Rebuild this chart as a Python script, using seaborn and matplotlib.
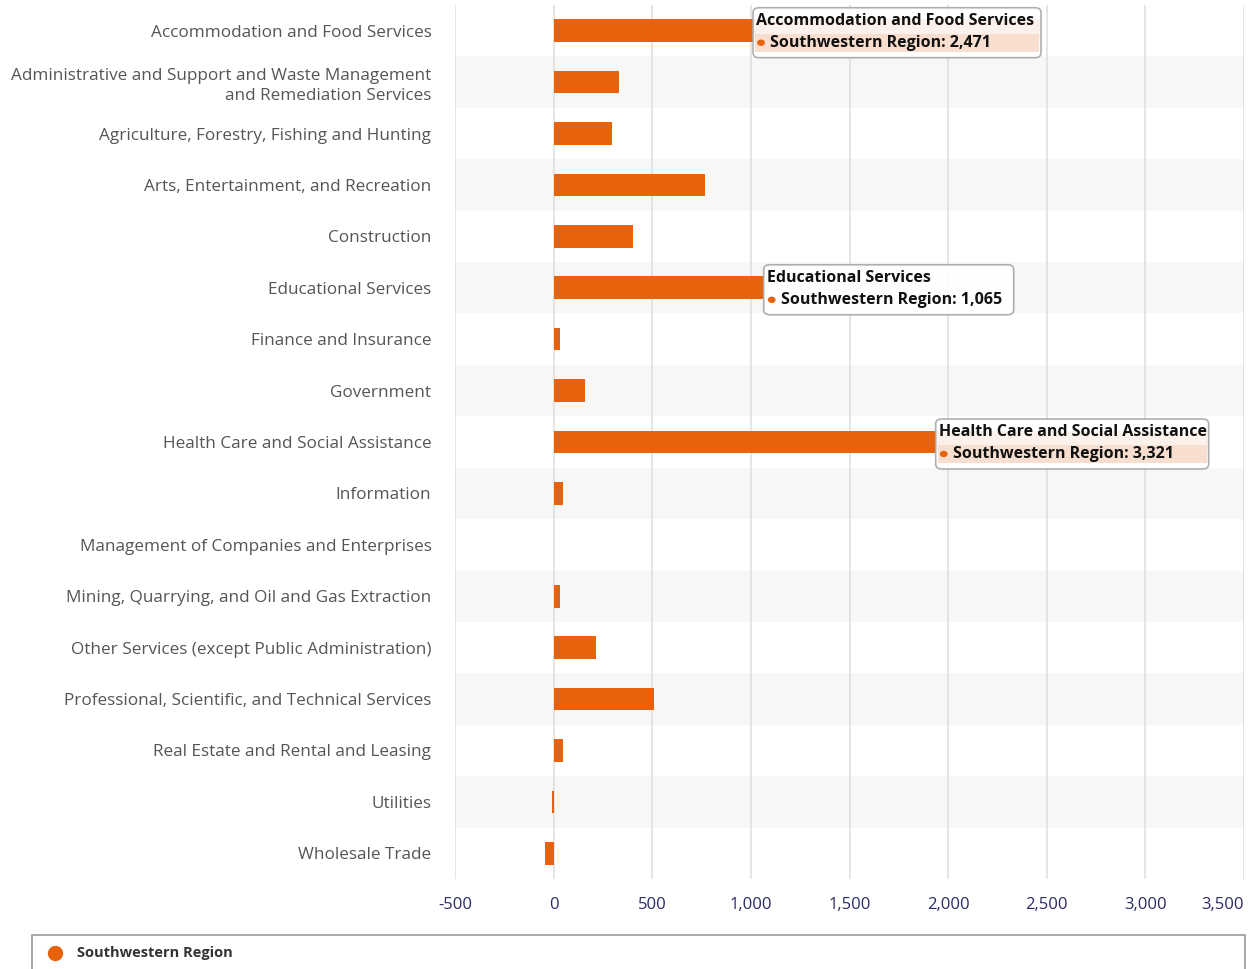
import numpy as np
import pandas as pd
import seaborn as sns
import matplotlib
matplotlib.use("Agg")
import matplotlib.pyplot as plt
from matplotlib.patches import FancyBboxPatch, Rectangle, Circle

# Net change by industry, Southwestern Region
industries = [
    "Accommodation and Food Services",
    "Administrative and Support and Waste Management\nand Remediation Services",
    "Agriculture, Forestry, Fishing and Hunting",
    "Arts, Entertainment, and Recreation",
    "Construction",
    "Educational Services",
    "Finance and Insurance",
    "Government",
    "Health Care and Social Assistance",
    "Information",
    "Management of Companies and Enterprises",
    "Mining, Quarrying, and Oil and Gas Extraction",
    "Other Services (except Public Administration)",
    "Professional, Scientific, and Technical Services",
    "Real Estate and Rental and Leasing",
    "Utilities",
    "Wholesale Trade",
]
change = [2471, 333, 294, 767, 404, 1065, 32, 158, 3321, 48, 0, 34, 216, 507, 49, -9, -44]
series_name = "Southwestern Region"
x_ticks = [-500, 0, 500, 1000, 1500, 2000, 2500, 3000, 3500]

# hover boxes: (row index, which side of the bar end the box sits, box width px, highlighted)
tooltips = [
    (0, "left", 288, True),
    (5, "right", 250, False),
    (8, "left", 273, True),
]

BAR = "#E8620C"
W, H = 1251, 969

sns.set_theme(style="white")
plt.rcParams["font.family"] = ["Open Sans", "DejaVu Sans"]

fig = plt.figure(figsize=(W / 100, H / 100), dpi=100)
fig.patch.set_facecolor("white")
ax = fig.add_axes([455 / W, 90 / H, (1244 - 455) / W, (879 - 5) / H])

df = pd.DataFrame({"industry": industries, "value": change})
sns.barplot(data=df, x="value", y="industry", orient="h", color=BAR,
            saturation=1, width=0.44, linewidth=0, ax=ax, zorder=3)

n = len(industries)
ax.set_xlim(x_ticks[0], x_ticks[-1])
ax.set_ylim(n - 0.5, -0.5)

# alternating row bands
for i in range(1, n, 2):
    ax.axhspan(i - 0.5, i + 0.5, color="#f7f7f7", zorder=0, lw=0)

ax.set_xticks(x_ticks)
ax.set_xticklabels([f"{t:,}" for t in x_ticks])
ax.xaxis.grid(True, color="#dedede", lw=1.1, zorder=1)
ax.yaxis.grid(False)
ax.set_axisbelow(True)
for s in ax.spines.values():
    s.set_visible(False)
ax.set_xlabel("")
ax.set_ylabel("")
ax.tick_params(axis="y", length=0, pad=17, labelsize=12.3, labelcolor="#555555")
ax.tick_params(axis="x", length=0, pad=13, labelsize=12, labelcolor="#2a2a66")
for lab in ax.get_yticklabels():
    lab.set_linespacing(1.3)
# keep the last tick label inside the plot edge
ax.get_xticklabels()[-1].set_horizontalalignment("right")


def to_fig(px, py):
    return px / W, py / H


# hover tooltips anchored at the bar ends
for row, side, wpx, hl in tooltips:
    val = change[row]
    ax_x, ax_y = ax.transData.transform((val, row))
    left = ax_x - wpx if side == "left" else ax_x
    top = ax_y + 23
    bottom = ax_y - 27
    box = FancyBboxPatch(to_fig(left, bottom), wpx / W, (top - bottom) / H,
                         boxstyle="round,pad=0,rounding_size=0.005",
                         transform=fig.transFigure, facecolor="white",
                         edgecolor="#a8a8a8", lw=1.2, alpha=0.92, zorder=10)
    fig.add_artist(box)
    if hl:
        band = Rectangle(to_fig(left + 2, ax_y - 21), (wpx - 4) / W, 18 / H,
                         transform=fig.transFigure, facecolor="#f7dece",
                         edgecolor="none", zorder=11)
        fig.add_artist(band)
    label = industries[row].replace("\n", " ")
    fig.text(*to_fig(left + 3, ax_y + 10), label, fontsize=11.5,
             fontweight="bold", color="#111111", va="center", ha="left", zorder=12)
    fig.add_artist(Circle(to_fig(left + 8, ax_y - 12), 3.2 / W,
                          transform=fig.transFigure, color=BAR, zorder=12))
    fig.text(*to_fig(left + 17, ax_y - 12), f"{series_name}: {val:,}",
             fontsize=11.5, fontweight="bold", color="#111111",
             va="center", ha="left", zorder=12)

# legend panel
legend_box = Rectangle(to_fig(32, -5), (1245 - 32) / W, (34 + 5) / H,
                       transform=fig.transFigure, facecolor="white",
                       edgecolor="#9a9a9a", lw=1.2, zorder=5)
fig.add_artist(legend_box)
fig.add_artist(plt.Line2D([55 / W], [(H - 953) / H], marker="o", markersize=10,
                          color=BAR, transform=fig.transFigure, zorder=6))
fig.text(77 / W, (H - 953) / H, series_name, fontsize=10.5, fontweight="bold",
         color="#333333", va="center", ha="left", zorder=6)

fig.savefig("out.png", dpi=100)
